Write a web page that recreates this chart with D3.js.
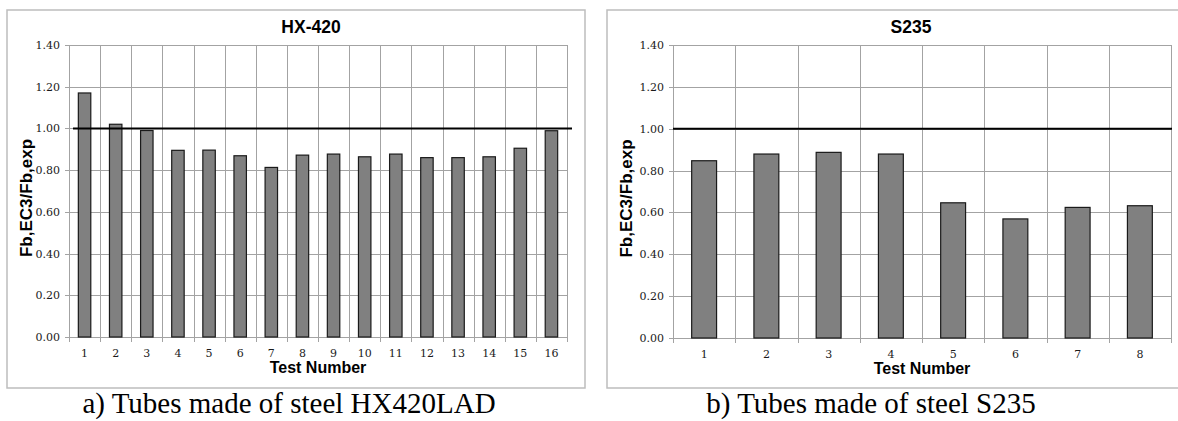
<!doctype html>
<html>
<head>
<meta charset="UTF-8">
<title>Fb,EC3/Fb,exp</title>
<script src="https://d3js.org/d3.v7.min.js"></script>
<style>
  body { margin: 0; background: #fff; }
  svg { display: block; }
</style>
</head>
<body>
<svg width="1178" height="421"></svg>
<script>
// data
var hxTests = ["1","2","3","4","5","6","7","8","9","10","11","12","13","14","15","16"];
var hxRatio = [1.17, 1.02, 0.99, 0.895, 0.896, 0.869, 0.813, 0.872, 0.877, 0.864, 0.877, 0.86, 0.86, 0.864, 0.905, 0.989];
var s235Tests = ["1","2","3","4","5","6","7","8"];
var s235Ratio = [0.847, 0.879, 0.887, 0.879, 0.646, 0.569, 0.624, 0.632];
var yTicks = [0, 0.2, 0.4, 0.6, 0.8, 1.0, 1.2, 1.4];
var refValue = 1.0;

var svg = d3.select("svg");

drawPanel({
  title: "HX-420", caption: "a) Tubes made of steel HX420LAD",
  cats: hxTests, vals: hxRatio,
  box: [7, 10, 585, 388], plot: [69, 45, 567, 337],
  titleX: 311, yTitleX: 32, captionX: 289, refFrom: 4, refTo: 5
});
drawPanel({
  title: "S235", caption: "b) Tubes made of steel S235",
  cats: s235Tests, vals: s235Ratio,
  box: [607, 10, 1185, 388], plot: [673, 45, 1171, 338],
  titleX: 911, yTitleX: 632, captionX: 871, refFrom: 0, refTo: 1
});

function drawPanel(p) {
  var x0 = p.plot[0], y0 = p.plot[1], x1 = p.plot[2], y1 = p.plot[3];

  var slot = d3.scaleBand().domain(p.cats).range([x0, x1]).padding(0);
  var bx = d3.scaleBand().domain(p.cats).range([x0, x1]).paddingInner(0.6).paddingOuter(0.3);
  var y = d3.scaleLinear().domain([0, 1.4]).range([y1, y0]);

  var g = svg.append("g");

  // chart frame
  g.append("rect")
    .attr("x", p.box[0]).attr("y", p.box[1])
    .attr("width", p.box[2] - p.box[0]).attr("height", p.box[3] - p.box[1])
    .attr("fill", "#fff").attr("stroke", "#bdbdbd").attr("stroke-width", 1.5);

  // horizontal grid + y ticks
  g.selectAll(".hg").data(yTicks).enter().append("line")
    .attr("x1", x0 - 4).attr("x2", x1)
    .attr("y1", function(d) { return Math.round(y(d)) + 0.5; })
    .attr("y2", function(d) { return Math.round(y(d)) + 0.5; })
    .attr("stroke", "#a3a3a3").attr("stroke-width", 1);

  // vertical grid at category boundaries + x ticks
  var edges = p.cats.map(function(c) { return slot(c); }).concat([x1]);
  g.selectAll(".vg").data(edges).enter().append("line")
    .attr("x1", function(d) { return Math.round(d) + 0.5; })
    .attr("x2", function(d) { return Math.round(d) + 0.5; })
    .attr("y1", y0).attr("y2", y1 + 5)
    .attr("stroke", "#a3a3a3").attr("stroke-width", 1);

  // bars
  g.selectAll(".bar").data(p.vals).enter().append("rect")
    .attr("x", function(d, i) { return bx(p.cats[i]); })
    .attr("y", function(d) { return y(d); })
    .attr("width", bx.bandwidth())
    .attr("height", function(d) { return y(0) - y(d); })
    .attr("fill", "#808080").attr("stroke", "#1a1a1a").attr("stroke-width", 1.2);

  // reference line at 1.00
  g.append("line")
    .attr("x1", x0 + p.refFrom).attr("x2", x1 + p.refTo)
    .attr("y1", y(refValue)).attr("y2", y(refValue))
    .attr("stroke", "#000").attr("stroke-width", 2);

  // y tick labels
  g.selectAll(".yl").data(yTicks).enter().append("text")
    .attr("x", x0 - 9).attr("y", function(d) { return y(d) + 4; })
    .attr("text-anchor", "end")
    .attr("font-family", "DejaVu Serif").attr("font-size", "11px").attr("fill", "#1a1a1a")
    .text(function(d) { return d.toFixed(2); });

  // x tick labels
  g.selectAll(".xl").data(p.cats).enter().append("text")
    .attr("x", function(d) { return slot(d) + slot.bandwidth() / 2; })
    .attr("y", y1 + 20)
    .attr("text-anchor", "middle")
    .attr("font-family", "DejaVu Serif").attr("font-size", "11px").attr("fill", "#1a1a1a")
    .text(function(d) { return d; });

  // title
  g.append("text")
    .attr("x", p.titleX).attr("y", 33)
    .attr("text-anchor", "middle")
    .attr("font-family", "Liberation Sans, Arial").attr("font-weight", "bold").attr("font-size", "17.5px")
    .text(p.title);

  // axis titles
  g.append("text")
    .attr("x", (x0 + x1) / 2).attr("y", y1 + 36)
    .attr("text-anchor", "middle")
    .attr("font-family", "Liberation Sans, Arial").attr("font-weight", "bold").attr("font-size", "16px")
    .text("Test Number");

  g.append("text")
    .attr("transform", "translate(" + p.yTitleX + "," + ((y0 + y1) / 2 + 7) + ") rotate(-90)")
    .attr("text-anchor", "middle")
    .attr("font-family", "Liberation Sans, Arial").attr("font-weight", "bold").attr("font-size", "17px")
    .text("Fb,EC3/Fb,exp");

  // caption under the chart
  svg.append("text")
    .attr("x", p.captionX).attr("y", 413)
    .attr("text-anchor", "middle")
    .attr("font-family", "Liberation Serif, Times New Roman").attr("font-size", "29px")
    .text(p.caption);
}
</script>
</body>
</html>
